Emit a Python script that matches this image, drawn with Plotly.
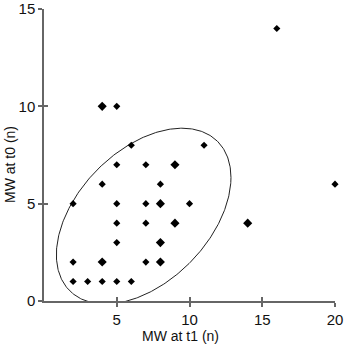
import numpy as np
import plotly.graph_objects as go

# data
small_x = [16, 5, 6, 11, 5, 7, 4, 8, 20, 2, 5, 7, 10, 5, 7, 5, 2, 7, 2, 3, 4, 5, 6]
small_y = [14, 10, 8, 8, 7, 7, 6, 6, 6, 5, 5, 5, 5, 4, 4, 3, 2, 2, 1, 1, 1, 1, 1]
big_x = [4, 9, 8, 9, 14, 8, 4, 8]
big_y = [10, 7, 5, 4, 4, 3, 2, 2]

x_ticks = [5, 10, 15, 20]
y_ticks = [0, 5, 10, 15]

# ellipse parameters (data units)
ell_cx, ell_cy = 6.85, 4.36
ell_sxx, ell_syy, ell_sxy = 36.0, 20.4, 11.9

M = np.array([[ell_sxx, ell_sxy], [ell_sxy, ell_syy]])
L = np.linalg.cholesky(M)
t = np.linspace(0, 2 * np.pi, 400)
circ = np.vstack([np.cos(t), np.sin(t)])
pts = L @ circ
ex = ell_cx + pts[0]
ey = ell_cy + pts[1]

FONT = "Liberation Sans, Arial"

fig = go.Figure()
fig.add_trace(go.Scatter(x=ex, y=ey, mode="lines",
                         line=dict(color="#222222", width=1), hoverinfo="skip"))
fig.add_trace(go.Scatter(x=small_x, y=small_y, mode="markers",
                         marker=dict(symbol="diamond", size=5.5, color="black"),
                         cliponaxis=False))
fig.add_trace(go.Scatter(x=big_x, y=big_y, mode="markers",
                         marker=dict(symbol="diamond", size=7, color="black"),
                         cliponaxis=False))
fig.add_trace(go.Scatter(x=[None], y=[None], xaxis="x2", yaxis="y2", showlegend=False))

axis_common = dict(showgrid=False, zeroline=False, showline=True,
                   linecolor="#666666", linewidth=1.5, ticks="outside",
                   ticklen=4, tickcolor="#666666", tickwidth=1.5,
                   tickfont=dict(family=FONT, size=15, color="#111111"))

L_M, R_M, T_M, B_M = 44, 12, 9, 44
pw, ph = 347 - L_M - R_M, 345 - T_M - B_M

fig.update_layout(
    width=347, height=345,
    margin=dict(l=L_M, r=R_M, t=T_M, b=B_M, autoexpand=False),
    paper_bgcolor="white", plot_bgcolor="white",
    showlegend=False,
    xaxis=dict(range=[0, 20], tickvals=x_ticks, ticktext=[str(v) for v in x_ticks],
               **axis_common),
    yaxis=dict(range=[0, 15], tickvals=y_ticks, ticktext=[str(v) for v in y_ticks],
               **axis_common),
    xaxis2=dict(range=[0, 20], overlaying="x", tickvals=x_ticks, showticklabels=False,
                ticks="inside", ticklen=4, tickcolor="#666666", tickwidth=1.5,
                showgrid=False, zeroline=False, showline=False),
    yaxis2=dict(range=[0, 15], overlaying="y", tickvals=y_ticks, showticklabels=False,
                ticks="inside", ticklen=4, tickcolor="#666666", tickwidth=1.5,
                showgrid=False, zeroline=False, showline=False),
    annotations=[
        dict(text="MW at t1 (n)", xref="paper", yref="paper",
             x=(180 - L_M) / pw, y=(345 - B_M - 336) / ph,
             xanchor="center", yanchor="middle", showarrow=False,
             font=dict(family=FONT, size=14, color="#111111")),
        dict(text="MW at t0 (n)", xref="paper", yref="paper", textangle=-90,
             x=(10 - L_M) / pw, y=(345 - B_M - 165) / ph,
             xanchor="center", yanchor="middle", showarrow=False,
             font=dict(family=FONT, size=14, color="#111111")),
    ],
)

fig.write_html("out.html", config={"displayModeBar": False},
               post_script="document.body.style.margin='0';document.body.style.overflow='hidden';")
